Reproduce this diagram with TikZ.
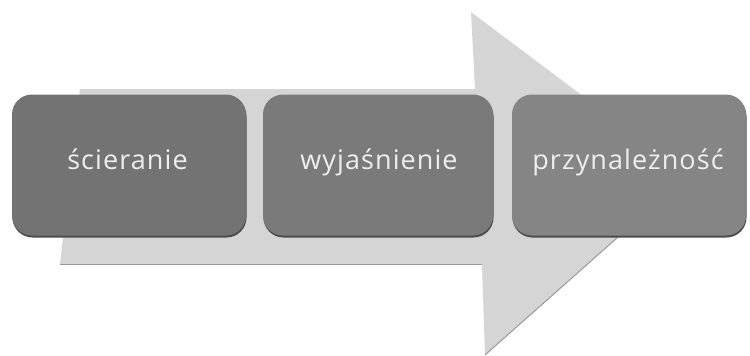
\documentclass[tikz,border=0pt]{standalone}
\usepackage{fontspec}
\setmainfont{Open Sans}
\definecolor{arrowgray}{HTML}{D5D5D5}
\definecolor{arrowedge}{HTML}{9A9A9A}
\definecolor{boxA}{HTML}{737373}
\definecolor{boxB}{HTML}{7A7A7A}
\definecolor{boxC}{HTML}{858585}
\definecolor{boxshadow}{HTML}{4C4C4C}
\definecolor{txt}{HTML}{EEEEEE}
\begin{document}
\begin{tikzpicture}[x=1pt,y=-1pt,
  stepbox/.style={rounded corners=20pt, minimum height=141pt, inner sep=0pt},
  boxshade/.style={stepbox, fill=boxshadow, draw=none},
  steplabel/.style={anchor=base, inner sep=0pt, text=txt,
    font=\fontsize{27}{30}\selectfont\addfontfeatures{LetterSpace=4}}]
\useasboundingbox (0,0) rectangle (750,356);
% big arrow
\fill[arrowgray] (80,89) -- (475,89) -- (471,12) -- (688,175) -- (485,355) -- (482,264) -- (60,264) -- cycle;
\draw[arrowedge, line width=1pt] (60,264) -- (482,264);
\draw[arrowedge, line width=1pt] (485,355) -- (688,175);
% box shadows
\node[boxshade, minimum width=234pt] at (129.5,167) {};
\node[boxshade, minimum width=230pt] at (378.5,167) {};
\node[boxshade, minimum width=234pt] at (629.5,167) {};
% boxes
\node[stepbox, fill=boxA, minimum width=234pt] (s1) at (129,165) {};
\node[stepbox, fill=boxB, minimum width=230pt] (s2) at (378,165) {};
\node[stepbox, fill=boxC, minimum width=234pt] (s3) at (629,165) {};
% labels
\node[steplabel] (t1) at (127.5,169) {ścieranie};
\node[steplabel] (t2) at (379,169) {wyjaśnienie};
\node[steplabel] (t3) at (628,169) {przynależność};
\end{tikzpicture}
\end{document}
